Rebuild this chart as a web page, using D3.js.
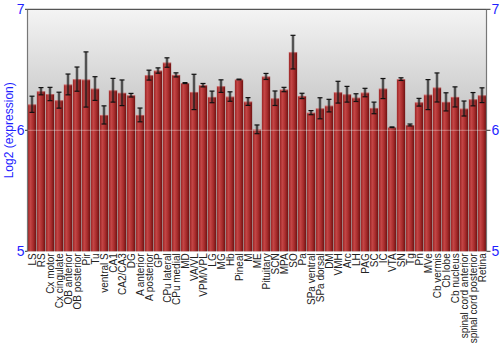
<!DOCTYPE html>
<html>
<head>
  <meta charset="utf-8">
  <title>Log2 expression by region</title>
  <script src="https://d3js.org/d3.v7.min.js"></script>
  <style>
    body { margin: 0; background: white; }
    .tick-label { font-family: "Liberation Sans", Arial, sans-serif; font-size: 14px; fill: #1f1fff; }
    .x-label { font-family: "Liberation Sans", Arial, sans-serif; font-size: 10px; fill: #222; }
    .axis-title { font-family: "Liberation Sans", Arial, sans-serif; font-size: 12px; fill: #1f1fff; }
  </style>
</head>
<body>
<div id="chart"></div>
<script>
  // Regions along the x axis
  const regions = ["LS", "RS", "Cx motor", "Cx cingulate", "OB anterior", "OB posterior", "Pir", "Tu",
    "ventral S", "CA1", "CA2/CA3", "DG", "A anterior", "A posterior", "GP", "CPu lateral", "CPu medial",
    "MD", "VA/VL", "VPM/VPL", "LG", "MG", "Hb", "Pineal", "M", "ME", "Pituitary", "SCN", "MPA", "SO",
    "Pa", "SPa ventral", "SPa dorsal", "DM", "VMH", "Arc", "LH", "PAG", "SC", "IC", "VTA", "SN", "Tg",
    "Pn", "MVe", "Cb vermis", "Cb lobe", "Cb nucleus", "spinal cord anterior", "spinal cord posterior", "Retina"];

  // Mean log2 expression
  const values = [6.215, 6.323, 6.30, 6.249, 6.379, 6.423, 6.42, 6.345,
    6.127, 6.331, 6.31, 6.29, 6.127, 6.456, 6.494, 6.56, 6.458,
    6.39, 6.317, 6.373, 6.276, 6.365, 6.279, 6.42, 6.238, 6.008, 6.445, 6.265, 6.337, 6.646,
    6.284, 6.146, 6.182, 6.204, 6.315, 6.298, 6.27, 6.312, 6.185, 6.345, 6.025, 6.423, 6.044,
    6.232, 6.295, 6.354, 6.235, 6.276, 6.18, 6.257, 6.29];

  // Error bar half-widths
  const errors = [0.067, 0.03, 0.055, 0.066, 0.086, 0.1, 0.228, 0.098,
    0.075, 0.098, 0.106, 0.015, 0.057, 0.041, 0.022, 0.039, 0.017,
    0.004, 0.146, 0.014, 0.048, 0.052, 0.039, 0.003, 0.032, 0.036, 0.025, 0.06, 0.018, 0.139,
    0.022, 0.017, 0.087, 0.052, 0.09, 0.065, 0.032, 0.035, 0.048, 0.083, 0.003, 0.011, 0.008,
    0.032, 0.124, 0.12, 0.075, 0.083, 0.062, 0.055, 0.061];

  const yTicks = [5, 6, 7];

  const width = 500, height = 350;
  const plotLeft = 27.5, plotRight = 486.5, plotTop = 9.3, plotBottom = 251.3;

  const svg = d3.select("#chart").append("svg")
    .attr("width", width)
    .attr("height", height);

  const defs = svg.append("defs");

  // plot background gradient
  const bg = defs.append("linearGradient")
    .attr("id", "bg").attr("x1", 0).attr("y1", 0).attr("x2", 0).attr("y2", 1);
  bg.append("stop").attr("offset", "0%").attr("stop-color", "#f4f4f4");
  bg.append("stop").attr("offset", "50%").attr("stop-color", "#c0c0c0");
  bg.append("stop").attr("offset", "100%").attr("stop-color", "#a0a0a0");

  // bar shading, dark edges and a lighter middle
  const barGrad = defs.append("linearGradient")
    .attr("id", "barGrad").attr("x1", 0).attr("y1", 0).attr("x2", 1).attr("y2", 0);
  barGrad.append("stop").attr("offset", "0%").attr("stop-color", "#9a2424");
  barGrad.append("stop").attr("offset", "30%").attr("stop-color", "#c44646");
  barGrad.append("stop").attr("offset", "65%").attr("stop-color", "#a82c2c");
  barGrad.append("stop").attr("offset", "100%").attr("stop-color", "#6e1212");

  const x = d3.scaleBand()
    .domain(regions)
    .range([plotLeft, plotRight])
    .paddingInner(0.08)
    .paddingOuter(0.04);

  const y = d3.scaleLinear()
    .domain([5, 7])
    .range([plotBottom, plotTop]);

  svg.append("rect")
    .attr("x", plotLeft).attr("y", plotTop)
    .attr("width", plotRight - plotLeft).attr("height", plotBottom - plotTop)
    .attr("fill", "url(#bg)");

  const data = regions.map((r, i) => ({region: r, value: values[i], err: errors[i]}));

  // bars
  svg.selectAll(".bar")
    .data(data)
    .join("rect")
    .attr("class", "bar")
    .attr("x", d => x(d.region))
    .attr("y", d => y(d.value))
    .attr("width", x.bandwidth())
    .attr("height", d => y(5) - y(d.value))
    .attr("fill", "url(#barGrad)");

  // light cap on top of each bar
  svg.selectAll(".bar-top")
    .data(data)
    .join("rect")
    .attr("class", "bar-top")
    .attr("x", d => x(d.region))
    .attr("y", d => y(d.value) - 0.5)
    .attr("width", x.bandwidth())
    .attr("height", 1.5)
    .attr("fill", "rgba(255,200,200,0.35)");

  // grid line at 6, drawn over the bars
  svg.append("line")
    .attr("x1", plotLeft).attr("x2", plotRight)
    .attr("y1", y(6)).attr("y2", y(6))
    .attr("stroke", "rgba(255,255,255,0.35)")
    .attr("stroke-width", 1);

  // error bars
  const eb = svg.selectAll(".err")
    .data(data)
    .join("g")
    .attr("class", "err");

  eb.append("line")
    .attr("x1", d => x(d.region) + x.bandwidth() / 2)
    .attr("x2", d => x(d.region) + x.bandwidth() / 2)
    .attr("y1", d => y(d.value - d.err))
    .attr("y2", d => y(d.value + d.err))
    .attr("stroke", "rgba(60,60,60,0.45)")
    .attr("stroke-width", 3);
  eb.append("line")
    .attr("x1", d => x(d.region) + x.bandwidth() / 2)
    .attr("x2", d => x(d.region) + x.bandwidth() / 2)
    .attr("y1", d => y(d.value - d.err))
    .attr("y2", d => y(d.value + d.err))
    .attr("stroke", "#111")
    .attr("stroke-width", 1);
  [d => d.value - d.err, d => d.value + d.err].forEach(f => {
    eb.append("line")
      .attr("x1", d => x(d.region) + x.bandwidth() / 2 - 2.5)
      .attr("x2", d => x(d.region) + x.bandwidth() / 2 + 2.5)
      .attr("y1", d => y(f(d)))
      .attr("y2", d => y(f(d)))
      .attr("stroke", "#111")
      .attr("stroke-width", 1.2);
  });

  // frame
  svg.append("line").attr("x1", plotLeft).attr("x2", plotLeft).attr("y1", plotTop).attr("y2", plotBottom)
    .attr("stroke", "#777").attr("stroke-width", 1.2);
  svg.append("line").attr("x1", plotRight).attr("x2", plotRight).attr("y1", plotTop).attr("y2", plotBottom)
    .attr("stroke", "#777").attr("stroke-width", 1.2);
  svg.append("line").attr("x1", plotLeft).attr("x2", plotRight).attr("y1", plotTop).attr("y2", plotTop)
    .attr("stroke", "#555").attr("stroke-width", 1.2);

  // y ticks on both sides
  svg.selectAll(".ytl-tick")
    .data(yTicks)
    .join("line")
    .attr("x1", plotLeft - 2.5).attr("x2", plotLeft)
    .attr("y1", d => y(d)).attr("y2", d => y(d))
    .attr("stroke", "#333");

  svg.selectAll(".ytl")
    .data(yTicks)
    .join("text")
    .attr("class", "tick-label")
    .attr("x", plotLeft - 3)
    .attr("y", d => y(d))
    .attr("dy", "0.36em")
    .attr("text-anchor", "end")
    .text(d => d);

  svg.selectAll(".ytr-tick")
    .data(yTicks)
    .join("line")
    .attr("x1", plotRight).attr("x2", plotRight + 4)
    .attr("y1", d => y(d)).attr("y2", d => y(d))
    .attr("stroke", "#333");

  svg.selectAll(".ytr")
    .data(yTicks)
    .join("text")
    .attr("class", "tick-label")
    .attr("x", plotRight + 5)
    .attr("y", d => y(d))
    .attr("dy", "0.36em")
    .attr("text-anchor", "start")
    .text(d => d);

  // region labels, rotated
  svg.selectAll(".x-label")
    .data(regions)
    .join("text")
    .attr("class", "x-label")
    .attr("transform", d => `translate(${x(d) + x.bandwidth() / 2 + 3.5},${plotBottom + 2}) rotate(-90)`)
    .attr("text-anchor", "end")
    .text(d => d);

  svg.append("text")
    .attr("class", "axis-title")
    .attr("transform", `translate(13,${(plotTop + plotBottom) / 2}) rotate(-90)`)
    .attr("text-anchor", "middle")
    .text("Log2 (expression)");
</script>
</body>
</html>
